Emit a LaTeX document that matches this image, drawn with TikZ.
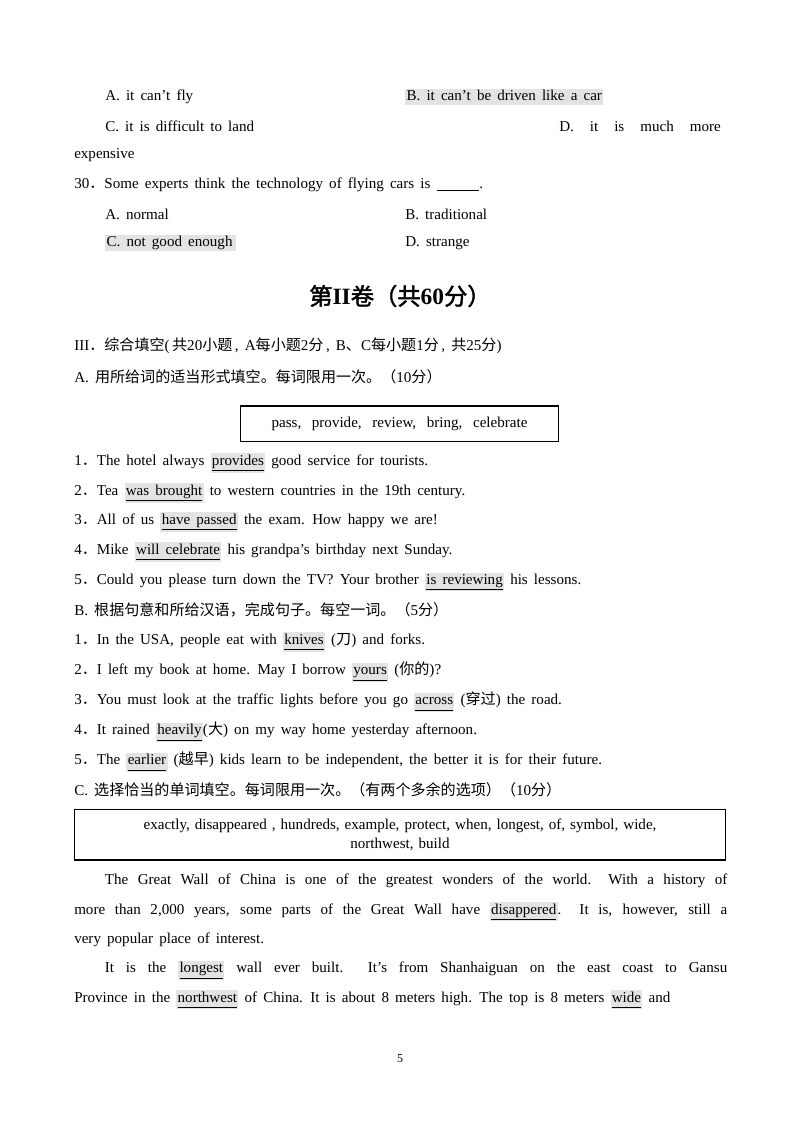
\documentclass[tikz,border=0pt]{standalone}
\usepackage{fontspec}
\setmainfont{Liberation Serif}
\newfontfamily\cjk{Noto Sans CJK SC}
\newfontfamily\cjkb[FakeBold=2]{Noto Sans CJK SC}
\definecolor{hl}{gray}{0.89}
\newcommand\hlu[1]{{\setlength{\fboxsep}{1pt}\colorbox{hl}{\underline{\vphantom{Ag}#1}}}}
\newcommand\hlg[1]{{\setlength{\fboxsep}{1pt}\colorbox{hl}{\vphantom{Ag}#1}}}
\newcommand\dn{{\cjk ．}}
\newcommand\ws{\spaceskip=4.6pt plus 3pt minus 0.5pt\relax}
\begin{document}
\begin{tikzpicture}[x=0.75pt,y=-0.75pt,
  t/.style={anchor=west,inner sep=0pt,font=\fontsize{11.3}{13}\selectfont\ws},
  bx/.style={draw,line width=1pt}]
\useasboundingbox (0,0) rectangle (800,1129);
\node[t] (l1a) at (105,97) {A. it can't fly};
\node[t] (l1b) at (405,97) {\hlg{B. it can't be driven like a car}};
\node[t] (l2a) at (105,126) {C. it is difficult to land};
\node[t] (l2b) at (559,126) {D.\hspace{12pt}it\hspace{12pt}is\hspace{12pt}much\hspace{12pt}more};
\node[t] (l3) at (74,155) {expensive};
\node[t] (l4) at (74,185) {30\dn Some experts think the technology of flying cars is \underline{\hspace{32pt}}.};
\node[t] (l5a) at (105,214) {A. normal};
\node[t] (l5b) at (405,214) {B. traditional};
\node[t] (l6a) at (105,243) {\hlg{C. not good enough\,}};
\node[t] (l6b) at (405,243) {D. strange};
\node[t,anchor=center,font=\fontsize{17.5}{20}\selectfont] (title) at (400,296) {{\cjkb 第}\textbf{II}{\cjkb 卷（共}\textbf{60}{\cjkb 分）}};
\node[t] (s3) at (74,346) {III\dn {\cjk 综合填空}(\,{\cjk 共}20{\cjk 小题}\,, A{\cjk 每小题}2{\cjk 分}\,, B{\cjk 、}C{\cjk 每小题}1{\cjk 分}\,, {\cjk 共}25{\cjk 分})};
\node[t] (sa) at (74,377) {A. {\cjk 用所给词的适当形式填空。每词限用一次。（}10{\cjk 分）}};
\node[bx,t,anchor=center,minimum width=238.5pt,minimum height=26.5pt] (box1) at (399.5,423.5) {pass,\hspace{8pt}provide,\hspace{8pt}review,\hspace{8pt}bring,\hspace{8pt}celebrate};
\node[t] (a1) at (74,463) {1\dn The hotel always \hlu{provides} good service for tourists.};
\node[t] (a2) at (74,493) {2\dn Tea \hlu{was brought} to western countries in the 19th century.};
\node[t] (a3) at (74,522) {3\dn All of us \hlu{have passed} the exam. How happy we are!};
\node[t] (a4) at (74,552) {4\dn Mike \hlu{will celebrate} his grandpa's birthday next Sunday.};
\node[t] (a5) at (74,582) {5\dn Could you please turn down the TV? Your brother \hlu{is reviewing} his lessons.};
\node[t] (sb) at (74,610) {B. {\cjk 根据句意和所给汉语，完成句子。每空一词。（}5{\cjk 分）}};
\node[t] (b1) at (74,642) {1\dn In the USA, people eat with \hlu{knives} ({\cjk 刀}) and forks.};
\node[t] (b2) at (74,672) {2\dn I left my book at home. May I borrow \hlu{yours} ({\cjk 你的})?};
\node[t] (b3) at (74,702) {3\dn You must look at the traffic lights before you go \hlu{across} ({\cjk 穿过}) the road.};
\node[t] (b4) at (74,732) {4\dn It rained \hlu{heavily}({\cjk 大}) on my way home yesterday afternoon.};
\node[t] (b5) at (74,762) {5\dn The \hlu{earlier} ({\cjk 越早}) kids learn to be independent, the better it is for their future.};
\node[t] (sc) at (74,790) {C. {\cjk 选择恰当的单词填空。每词限用一次。（有两个多余的选项）（}10{\cjk 分）}};
\node[bx,t,anchor=center,minimum width=488.5pt,minimum height=38pt,text width=450pt,align=center,font=\fontsize{11.3}{14.3}\selectfont\ws] (box2) at (400,834.5) {exactly, disappeared , hundreds, example, protect, when, longest, of, symbol, wide,\\ northwest, build};
\node[t,anchor=north west,text width=489.75pt,align=justify,font=\fontsize{11.3}{22}\selectfont\ws] (p1) at (74,874) {\hspace*{23pt}The Great Wall of China is one of the greatest wonders of the world. With a history of\linebreak more than 2,000 years, some parts of the Great Wall have \hlu{disappered}. It is, however, still a\linebreak very popular place of interest.\par
\hspace*{23pt}It is the \hlu{longest} wall ever built. It's from Shanhaiguan on the east coast to Gansu\linebreak Province in the \hlu{northwest} of China. It is about 8 meters high. The top is 8 meters \hlu{wide} and\par};
\node[t,anchor=center,font=\fontsize{9}{10}\selectfont] (pg) at (400,1059) {5};
\end{tikzpicture}
\end{document}
